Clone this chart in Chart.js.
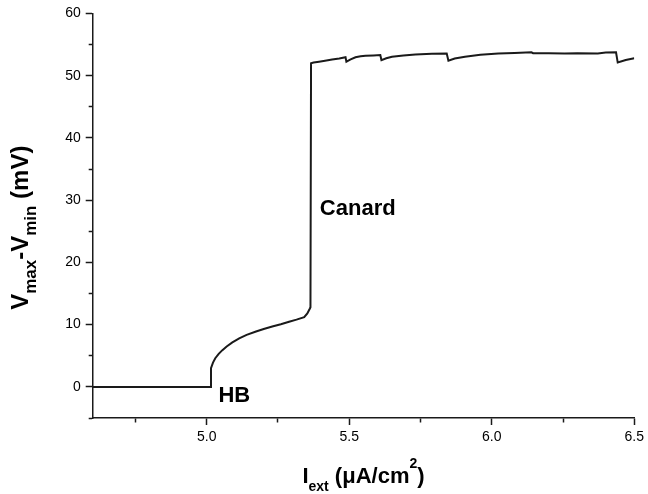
<!DOCTYPE html>
<html>
<head>
<meta charset="utf-8">
<script src="https://cdn.jsdelivr.net/npm/chart.js@4.4.1/dist/chart.umd.min.js"></script>
<style>
  html, body { margin: 0; padding: 0; background: #fff; }
  canvas { display: block; }
</style>
</head>
<body>
<canvas id="chart" width="648" height="494"></canvas>
<script>
// I_ext (uA/cm^2) vs Vmax-Vmin (mV)
const iExt = [
  4.6, 5.012, 5.015, 5.022, 5.03, 5.042, 5.055, 5.07, 5.09, 5.114, 5.14,
  5.173, 5.2, 5.23, 5.26, 5.289, 5.315, 5.342, 5.353, 5.362, 5.364, 5.366,
  5.375, 5.394, 5.415, 5.44, 5.465, 5.487, 5.49, 5.505, 5.522, 5.54, 5.557,
  5.585, 5.609, 5.613, 5.63, 5.65, 5.69, 5.732, 5.79, 5.842, 5.848, 5.87,
  5.906, 5.96, 6.023, 6.08, 6.139, 6.145, 6.2, 6.256, 6.3, 6.372, 6.4,
  6.436, 6.442, 6.47, 6.5,
];
const vDiff = [
  0, 0, 3.0, 3.9, 4.6, 5.3, 5.9, 6.5, 7.15, 7.8, 8.35,
  8.9, 9.3, 9.7, 10.05, 10.45, 10.8, 11.2, 11.8, 12.6, 12.8, 52.0,
  52.1, 52.25, 52.4, 52.6, 52.75, 52.95, 52.25, 52.6, 52.95, 53.1, 53.2,
  53.25, 53.3, 52.5, 52.8, 53.05, 53.25, 53.4, 53.5, 53.55, 52.4, 52.75,
  53.05, 53.35, 53.55, 53.65, 53.75, 53.6, 53.6, 53.55, 53.6, 53.55, 53.7,
  53.75, 52.1, 52.5, 52.8,
];

const xTicks = [4.75, 5.0, 5.25, 5.5, 5.75, 6.0, 6.25, 6.5];
const yTicks = [-5, 0, 5, 10, 15, 20, 25, 30, 35, 40, 45, 50, 55, 60];

const labels = [
  { text: "HB", x: 5.041, y: -2.46 },
  { text: "Canard", x: 5.397, y: 27.6 },
];

const FONT = "'Liberation Sans', Arial, sans-serif";
const INK = "#1a1a1a";

const isMajor = (v, step) => Math.abs(v / step - Math.round(v / step)) < 1e-6;

// draws text made of pieces, some lowered / raised, centred on (0, 0)
function drawRich(ctx, parts) {
  let total = 0;
  parts.forEach((p) => {
    ctx.font = "bold " + p.size + "px " + FONT;
    p.w = ctx.measureText(p.t).width;
    total += p.w;
  });
  let x = -total / 2;
  parts.forEach((p) => {
    ctx.font = "bold " + p.size + "px " + FONT;
    ctx.fillText(p.t, x, p.dy || 0);
    x += p.w;
  });
}

const textPlugin = {
  id: "texts",
  afterDraw(chart) {
    const ctx = chart.ctx;
    const area = chart.chartArea;
    const xs = chart.scales.x;
    const ys = chart.scales.y;
    ctx.save();
    ctx.fillStyle = "#000";
    ctx.textBaseline = "alphabetic";
    ctx.textAlign = "left";

    // x title
    ctx.save();
    ctx.translate((area.left + area.right) / 2, 483);
    drawRich(ctx, [
      { t: "I", size: 22 },
      { t: "ext", size: 14, dy: 8 },
      { t: " (\u03BCA/cm", size: 22 },
      { t: "2", size: 14, dy: -15 },
      { t: ")", size: 22 },
    ]);
    ctx.restore();

    // y title
    ctx.save();
    ctx.translate(28, (area.top + area.bottom) / 2 + 12);
    ctx.rotate(-Math.PI / 2);
    drawRich(ctx, [
      { t: "V", size: 24 },
      { t: "max", size: 17, dy: 8 },
      { t: "-V", size: 24 },
      { t: "min", size: 17, dy: 8 },
      { t: " (mV)", size: 24 },
    ]);
    ctx.restore();

    // annotations
    ctx.font = "bold 22px " + FONT;
    labels.forEach((l) => {
      ctx.fillText(l.text, xs.getPixelForValue(l.x), ys.getPixelForValue(l.y));
    });
    ctx.restore();
  },
};

new Chart(document.getElementById("chart"), {
  type: "line",
  data: {
    datasets: [
      {
        data: iExt.map((x, i) => ({ x: x, y: vDiff[i] })),
        borderColor: INK,
        borderWidth: 2,
        pointRadius: 0,
        tension: 0,
        fill: false,
      },
    ],
  },
  options: {
    responsive: false,
    animation: false,
    layout: { padding: { left: 0, top: 13, right: 11, bottom: 16 } },
    plugins: { legend: { display: false }, tooltip: { enabled: false } },
    scales: {
      x: {
        type: "linear",
        min: 4.6,
        max: 6.5,
        afterFit: (s) => { s.height = 60; },
        afterBuildTicks: (s) => { s.ticks = xTicks.map((v) => ({ value: v })); },
        border: { display: true, color: INK, width: 1.5 },
        grid: {
          drawOnChartArea: false,
          drawTicks: true,
          tickLength: 7,
          tickColor: INK,
          tickWidth: 1.5,
          tickBorderDash: (c) => (c.tick && isMajor(c.tick.value, 0.5) ? [] : [4, 100]),
        },
        ticks: {
          padding: 4,
          color: "#000",
          font: { family: FONT, size: 14 },
          maxRotation: 0,
          autoSkip: false,
          callback: (v) => (isMajor(v, 0.5) ? v.toFixed(1) : ""),
        },
      },
      y: {
        type: "linear",
        min: -5,
        max: 60,
        afterFit: (s) => { s.width = 92.7; },
        afterBuildTicks: (s) => { s.ticks = yTicks.map((v) => ({ value: v })); },
        border: { display: true, color: INK, width: 1.5 },
        grid: {
          drawOnChartArea: false,
          drawTicks: true,
          tickLength: 7,
          tickColor: INK,
          tickWidth: 1.5,
          // minor ticks: skip the outer part so they stay short
          tickBorderDash: (c) => (c.tick && isMajor(c.tick.value, 10) ? [] : [0, 3, 4, 100]),
        },
        ticks: {
          padding: 5,
          color: "#000",
          font: { family: FONT, size: 14 },
          autoSkip: false,
          callback: (v) => (isMajor(v, 10) ? String(v) : ""),
        },
      },
    },
  },
  plugins: [textPlugin],
});
</script>
</body>
</html>
